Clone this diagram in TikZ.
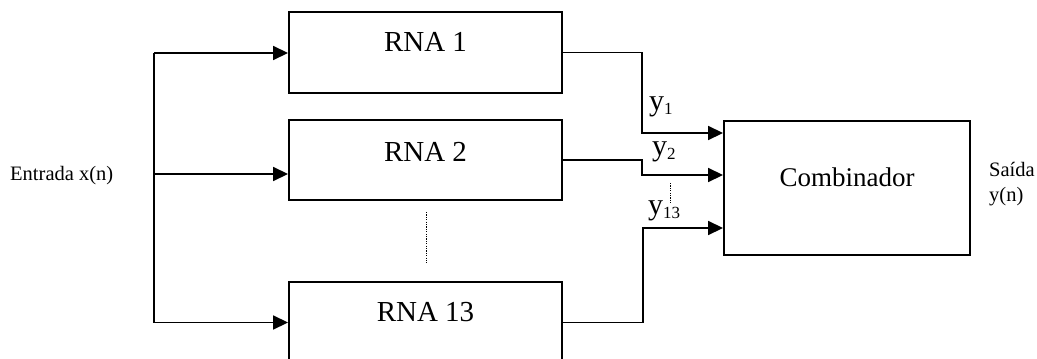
\documentclass[tikz,border=0pt]{standalone}
\usepackage{fontspec}
\setmainfont{Liberation Serif}
\usetikzlibrary{arrows.meta}
\begin{document}
\begin{tikzpicture}[x=1pt,y=-1pt,
  block/.style={draw, line width=1.9pt, minimum width=273pt, inner sep=0pt},
  wire/.style={line width=1.7pt},
  arr/.style={wire, -{Triangle[length=15pt,width=14pt]}},
  dots/.style={line width=1pt, dash pattern=on 1.2pt off 1.2pt},
  big/.style={font=\fontsize{29}{29}\selectfont},
  small/.style={font=\fontsize{20.5}{20.5}\selectfont}]
\useasboundingbox (0,0) rectangle (1037,359);
\clip (0,0) rectangle (1037,359);

% network blocks
\node[block, minimum height=81pt] (r1) at (425.5,52.5) {};
\node[block, minimum height=80pt] (r2) at (425.5,160) {};
\node[block, minimum height=81pt] (r13) at (425.5,322.5) {};
\node[big] (t1) at ([yshift=10.5pt]r1.center) {RNA 1};
\node[big] (t2) at ([yshift=8pt]r2.center) {RNA 2};
\node[big] (t13) at ([yshift=10.5pt]r13.center) {RNA 13};

% combiner
\node[draw, line width=1.9pt, minimum width=246pt, minimum height=134pt, inner sep=0pt] (cb) at (847,188) {};
\node[font=\fontsize{27}{27}\selectfont] (tc) at ([yshift=11pt]cb.center) {Combinador};

% input side
\node[small, anchor=base west, inner sep=0pt] (in) at (10,180) {Entrada x(n)};
\coordinate (b1) at (154,53);
\coordinate (b2) at (154,174);
\coordinate (b3) at (154,322.5);
\draw[wire] (b1) -- (b3);
\draw[arr] (b1) -- (b1 -| r1.west);
\draw[arr] (b2) -- (b2 -| r2.west);
\draw[arr] (b3) -- (r13.west);

% outputs towards the combiner
\coordinate (j1) at (642,133);
\coordinate (j2) at (642,175);
\coordinate (j3) at (643,228);
\draw[arr] (r1.east) -| (j1) -- (j1 -| cb.west);
\draw[arr] (r2.east) -| (j2) -- (j2 -| cb.west);
\draw[arr] (r13.east) -| (j3) -- (j3 -| cb.west);

% output labels
\node[anchor=base west, inner sep=0pt] (y1) at (649,110)
  {\fontsize{30}{30}\selectfont y\raisebox{-4pt}{\fontsize{17}{17}\selectfont 1}};
\node[anchor=base west, inner sep=0pt] (y2) at (652,155)
  {\fontsize{30}{30}\selectfont y\raisebox{-4pt}{\fontsize{17}{17}\selectfont 2}};
\node[anchor=base west, inner sep=0pt] (y13) at (648,214)
  {\fontsize{30}{30}\selectfont y\raisebox{-4pt}{\fontsize{17}{17}\selectfont 13}};

% ellipsis marks
\coordinate (d1a) at (670,183);
\coordinate (d1b) at (670,204);
\draw[dots] (d1a) -- (d1b);
\coordinate (d2a) at (426,212);
\coordinate (d2b) at (426,263);
\draw[dots] (d2a) -- (d2b);

% system output
\node[small, anchor=base west, inner sep=0pt] (out1) at (989,176) {Saída};
\node[small, anchor=base west, inner sep=0pt] (out2) at (989,201) {y(n)};
\end{tikzpicture}
\end{document}
